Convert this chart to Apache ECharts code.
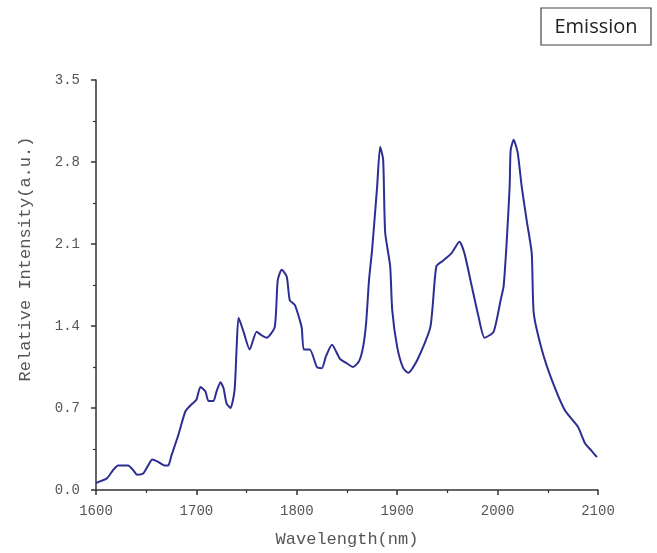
<!DOCTYPE html>
<html>
<head>
<meta charset="utf-8">
<script src="https://cdn.jsdelivr.net/npm/echarts@6/dist/echarts.min.js"></script>
<style>
html,body{margin:0;padding:0;background:#fff;}
#chart{width:657px;height:553px;}
</style>
</head>
<body>
<div id="chart"></div>
<script>
const wavelength = [1600,1606,1611,1617,1622,1632,1637,1641,1647,1652,1656,1662,1668,1672,1675,1682,1689,1695,1700,1704,1709,1712,1717,1720,1724,1727,1730,1734,1738,1740,1742,1747,1753,1760,1765,1770,1778,1781,1785,1790,1793,1798,1803,1805,1807,1813,1820,1825,1829,1835,1843,1850,1856,1862,1866,1869,1872,1875,1880,1883,1886,1888,1893,1895,1900,1906,1911,1920,1933,1939,1946,1954,1962,1967,1974,1981,1987,1996,2003,2006,2009,2012,2013,2016,2020,2024,2029,2034,2036,2044,2054,2067,2080,2087,2093,2099];
const intensity = [0.06,0.08,0.10,0.17,0.21,0.21,0.17,0.13,0.14,0.21,0.26,0.24,0.21,0.21,0.29,0.47,0.67,0.73,0.77,0.88,0.84,0.76,0.76,0.84,0.92,0.87,0.74,0.70,0.85,1.20,1.47,1.35,1.20,1.35,1.32,1.30,1.39,1.79,1.88,1.82,1.62,1.58,1.45,1.38,1.20,1.20,1.05,1.04,1.14,1.24,1.12,1.08,1.05,1.10,1.22,1.42,1.80,2.05,2.59,2.93,2.82,2.20,1.91,1.54,1.22,1.04,1.00,1.11,1.39,1.91,1.96,2.02,2.12,2.02,1.75,1.48,1.30,1.35,1.62,1.74,2.11,2.59,2.90,2.99,2.88,2.59,2.30,2.02,1.51,1.20,0.94,0.68,0.54,0.40,0.34,0.28];
const xTitle = 'Wavelength(nm)';
const yTitle = 'Relative Intensity(a.u.)';
const legendLabel = 'Emission';

const chart = echarts.init(document.getElementById('chart'));
const axisFont = 'Liberation Mono';
chart.setOption({
  animation: false,
  grid: {left: 96, right: 59, top: 80, bottom: 63},
  xAxis: {
    type: 'value', min: 1600, max: 2100, interval: 100,
    name: xTitle, nameLocation: 'middle', nameGap: 41,
    nameTextStyle: {fontFamily: axisFont, fontSize: 17, color: '#555'},
    axisLine: {lineStyle: {color: '#333', width: 1.5}},
    axisTick: {show: true, length: 5, lineStyle: {color: '#333', width: 1.5}},
    minorTick: {show: true, splitNumber: 2, length: 3, lineStyle: {color: '#333', width: 1.2}},
    axisLabel: {fontFamily: axisFont, fontSize: 14, color: '#555', margin: 14,
      formatter: v => String(v)},
    splitLine: {show: false}
  },
  yAxis: {
    type: 'value', min: 0, max: 3.5, interval: 0.7,
    axisLine: {show: true, lineStyle: {color: '#333', width: 1.5}},
    axisTick: {show: true, length: 5, lineStyle: {color: '#333', width: 1.5}},
    minorTick: {show: true, splitNumber: 2, length: 3, lineStyle: {color: '#333', width: 1.2}},
    axisLabel: {fontFamily: axisFont, fontSize: 14, color: '#555', margin: 16,
      formatter: v => v.toFixed(1)},
    splitLine: {show: false}
  },
  graphic: [
    {type: 'text', x: 25, y: 259, rotation: Math.PI / 2,
      style: {text: yTitle, fontFamily: axisFont, fontSize: 17, fill: '#555',
        textAlign: 'center', textVerticalAlign: 'middle'}},
    {type: 'rect', shape: {x: 541, y: 8, width: 110, height: 37},
      style: {fill: '#fff', stroke: '#444', lineWidth: 1.2}},
    {type: 'text', x: 596, y: 27,
      style: {text: legendLabel, fontFamily: 'Open Sans', fontSize: 20, fill: '#222',
        textAlign: 'center', textVerticalAlign: 'middle'}}
  ],
  series: [{
    type: 'line',
    data: wavelength.map((w, i) => [w, intensity[i]]),
    showSymbol: false,
    smooth: 0.2,
    lineStyle: {color: '#2e2e92', width: 2}
  }]
});
</script>
</body>
</html>
